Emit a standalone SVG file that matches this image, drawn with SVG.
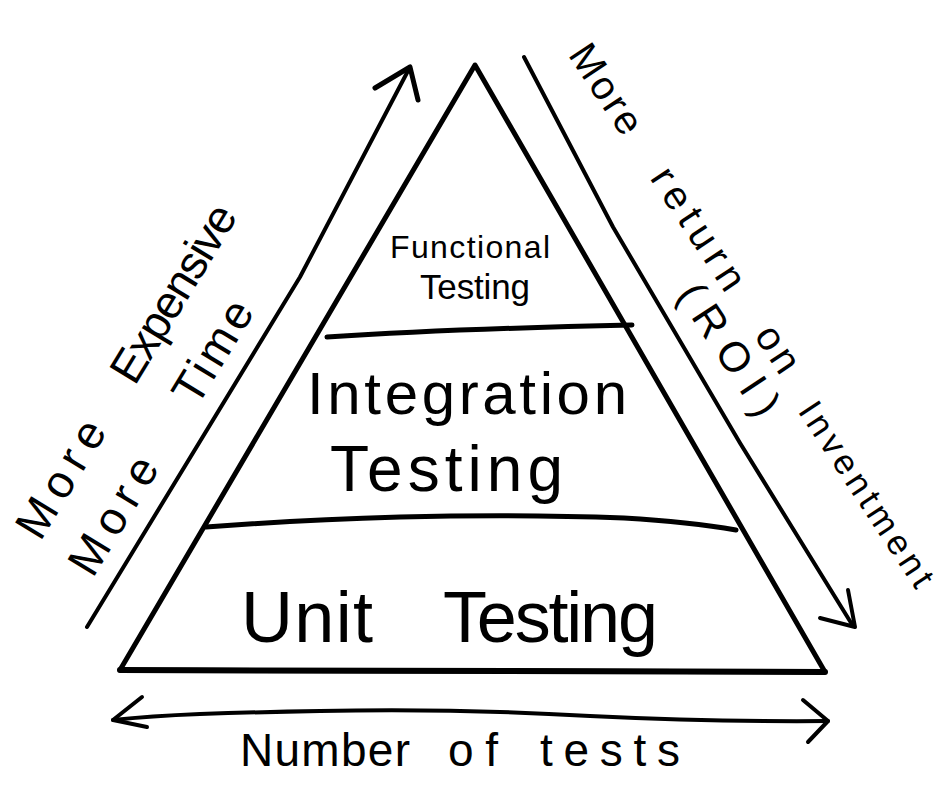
<svg xmlns="http://www.w3.org/2000/svg" width="950" height="798" viewBox="0 0 950 798">
  <style>
    .ln { fill: none; stroke: #000; stroke-width: 5; stroke-linecap: round; stroke-linejoin: round; }
    .ar { fill: none; stroke: #000; stroke-width: 4; stroke-linecap: round; stroke-linejoin: round; }
    .t { font-family: "Liberation Sans", "DejaVu Sans", sans-serif; fill: #000; }
  </style>
  <rect x="0" y="0" width="950" height="798" fill="#fff"/>

  <g id="pyramid">
    <path class="ln" d="M475,65 L120,670 L825,672 Z"/>
    <path class="ln" d="M120,670 L825,672" style="stroke-width:6"/>
  </g>

  <g id="tier-functional">
    <path class="ln" d="M327,337 Q450,329 632,325"/>
    <text class="t" x="390" y="258" font-size="32" textLength="160">Functional</text>
    <text class="t" x="420" y="299" font-size="35" textLength="110">Testing</text>
  </g>

  <g id="tier-integration">
    <path class="ln" d="M206,527 Q300,520 400,517 Q520,514 624,518 Q690,522 736,530"/>
    <text class="t" x="307" y="414" font-size="60" textLength="320">Integration</text>
    <text class="t" x="330" y="491" font-size="64" textLength="233">Testing</text>
  </g>

  <g id="tier-unit">
    <text class="t" y="642" font-size="72"><tspan x="241" textLength="132">Unit</tspan><tspan x="443" textLength="215">Testing</tspan></text>
  </g>

  <g id="connectors">
    <path class="ar" d="M87,627 L300,277 L410,67"/>
    <path class="ar" d="M375,88 L410,67 L418,100" style="stroke-width:5"/>
    <path class="ar" d="M524,57 L613,227 L740,443 L853,626"/>
    <path class="ar" d="M820,618 L855,627 L848,590"/>
    <path class="ar" d="M113,720 Q150,716 200,714 Q260,712 320,711 Q450,708 590,716 Q720,722 828,721"/>
    <path class="ar" d="M142,697 L113,720 L147,727"/>
    <path class="ar" d="M803,700 L828,721 L808,742"/>
  </g>

  <g id="label-cost">
    <g transform="translate(87,627) rotate(-58.7)">
      <text class="t" y="-84" font-size="46"><tspan x="48" textLength="130">More</tspan><tspan x="230" textLength="200">Expensive</tspan></text>
      <text class="t" y="-20" font-size="46"><tspan x="44" textLength="130">More</tspan><tspan x="244" textLength="113">Time</tspan></text>
    </g>
  </g>

  <g id="label-roi">
    <g transform="translate(570,53) rotate(56.5)">
      <text class="t" y="3" font-size="40"><tspan x="0" textLength="100">More</tspan><tspan x="148" textLength="139">return</tspan><tspan x="337" textLength="49">on</tspan></text>
      <text class="t" x="424" y="8" font-size="35" textLength="215">Inventment</text>
      <text class="t" x="260" y="45" font-size="42" textLength="150">(ROI)</text>
    </g>
  </g>

  <g id="label-count">
    <text class="t" y="766" font-size="46"><tspan x="240" textLength="170">Number</tspan><tspan x="448" textLength="50">of</tspan><tspan x="540" textLength="140">tests</tspan></text>
  </g>
</svg>
